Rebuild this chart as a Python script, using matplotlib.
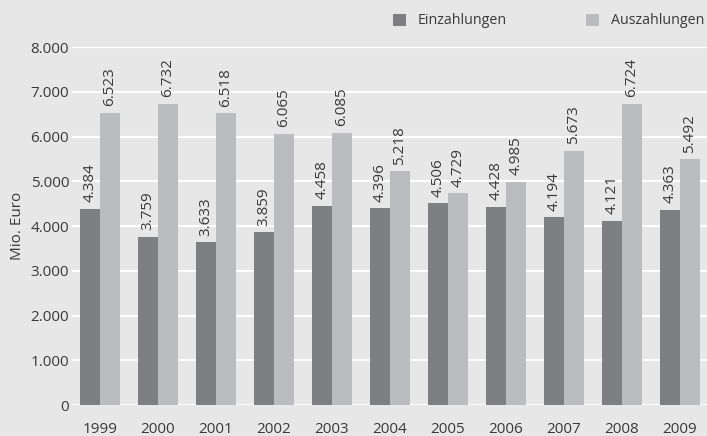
import matplotlib.pyplot as plt
import numpy as np

# Data
years = ['1999', '2000', '2001', '2002', '2003', '2004',
         '2005', '2006', '2007', '2008', '2009']
einzahlungen = [4384, 3759, 3633, 3859, 4458, 4396, 4506, 4428, 4194, 4121, 4363]
auszahlungen = [6523, 6732, 6518, 6065, 6085, 5218, 4729, 4985, 5673, 6724, 5492]
yticks = [0, 1000, 2000, 3000, 4000, 5000, 6000, 7000, 8000]


def fmt(v):
    return f'{v:,}'.replace(',', '.')


def main():
    plt.rcParams['font.family'] = ['Open Sans', 'DejaVu Sans']
    text_col = '#3a3a3a'
    bg = '#e6e7e6'
    dark = '#7e7f83'
    light = '#bbbcbf'
    fs = 11

    fig = plt.figure(figsize=(7.07, 4.36), dpi=100, facecolor=bg)
    ax = fig.add_axes([72 / 707, 31 / 436, 635 / 707, 358 / 436])
    ax.set_facecolor(bg)

    x = np.arange(len(years))
    w = 0.345
    b1 = ax.bar(x - w / 2, einzahlungen, w, color=dark, label='Einzahlungen', zorder=2)
    b2 = ax.bar(x + w / 2, auszahlungen, w, color=light, label='Auszahlungen', zorder=2)

    # Value labels
    for bars, vals in ((b1, einzahlungen), (b2, auszahlungen)):
        for rect, v in zip(bars, vals):
            ax.text(rect.get_x() + rect.get_width() / 2, v + 150, fmt(v),
                    rotation=90, ha='center', va='bottom',
                    fontsize=fs, color=text_col)

    ax.set_ylim(0, 8000)
    ax.set_xlim(-0.48, len(years) - 0.53)
    ax.set_yticks(yticks)
    ax.set_yticklabels([fmt(t) for t in yticks])
    ax.set_xticks(x)
    ax.set_xticklabels(years)
    ax.tick_params(axis='both', length=0, labelsize=fs, colors=text_col)
    ax.tick_params(axis='y', pad=2)
    ax.tick_params(axis='x', pad=12)
    ax.grid(axis='y', color='white', linewidth=1.5, zorder=0)
    ax.set_axisbelow(True)
    for s in ax.spines.values():
        s.set_visible(False)
    ax.set_ylabel('Mio. Euro', fontsize=fs, color=text_col, labelpad=4)

    ax.legend(loc='center left', bbox_to_anchor=(380 / 707, 1 - 21 / 436),
              bbox_transform=fig.transFigure, ncol=2, frameon=False,
              fontsize=10.3, handlelength=0.91, handleheight=0.91,
              handletextpad=0.84, columnspacing=5.5, labelcolor=text_col)

    fig.savefig('out.png', dpi=100, facecolor=bg)
    plt.close(fig)


if __name__ == '__main__':
    main()
